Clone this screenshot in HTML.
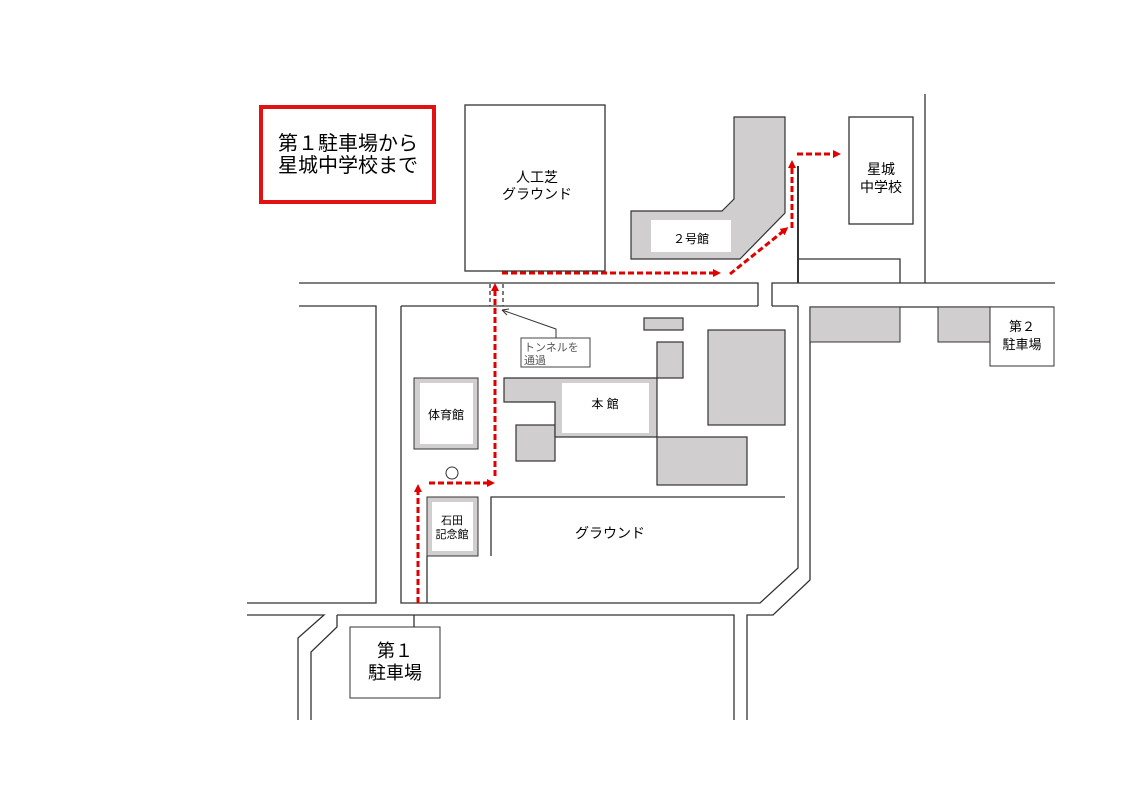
<!DOCTYPE html>
<html><head><meta charset="utf-8"><style>
html,body{margin:0;padding:0;background:#fff;}
svg{display:block;}
text{font-family:"Liberation Sans","Noto Sans CJK JP",sans-serif;fill:#000;}
</style></head><body>
<svg width="1123" height="794" viewBox="0 0 1123 794" xmlns="http://www.w3.org/2000/svg">
<defs>
<marker id="ah" markerWidth="8" markerHeight="8" refX="5" refY="4" orient="auto" markerUnits="userSpaceOnUse">
<path d="M0,0 L8,4 L0,8 z" fill="#e00000"/>
</marker>
</defs>
<!-- title -->
<rect x="261" y="107" width="173" height="95" fill="#fff" stroke="#e31212" stroke-width="4"/>
<text x="348" y="150" font-size="20" text-anchor="middle">第１駐車場から</text>
<text x="348" y="172" font-size="20" text-anchor="middle">星城中学校まで</text>

<g fill="none" stroke="#333" stroke-width="1.3">
<!-- artificial turf -->
<rect x="465" y="105" width="140" height="166"/>
<!-- roads -->
<polyline points="299,283 758,283 758,306"/>
<polyline points="772,306 772,283 1055,283"/>
<polyline points="299,306 376,306 376,603 247,603"/>
<polyline points="401,306 758,306"/>
<polyline points="772,306 798,306"/>
<polyline points="401,306 401,603 760,603 798,568 798,306"/>
<line x1="798" y1="166" x2="798" y2="283" stroke-width="2"/>
<polyline points="798,283 798,259 900,259 900,283"/>
<line x1="925" y1="94" x2="925" y2="283"/>
<polyline points="1054,307 810,307 810,580 773,615 747,615 747,720"/>
<polyline points="247,615 324,615 298,638 298,720"/>
<polyline points="337,615 734,615 734,720"/>
<polyline points="337,615 337,627 311,652 311,720"/>
<line x1="414" y1="615" x2="414" y2="627"/>
<polyline points="491,556 491,497 785,497"/>
<line x1="427" y1="556" x2="427" y2="603"/>
</g>
<!-- schools / parking boxes -->
<rect x="849" y="117" width="64" height="107" fill="#fff" stroke="#333" stroke-width="1.3"/>
<text x="881" y="174" font-size="14" text-anchor="middle">星城</text>
<text x="881" y="192" font-size="14" text-anchor="middle">中学校</text>
<rect x="810" y="307" width="90" height="35" fill="#d0cece" stroke="#333"/>
<rect x="938" y="307" width="52" height="35" fill="#d0cece" stroke="#333"/>
<rect x="990" y="307" width="64" height="59" fill="#fff" stroke="#333"/>
<text x="1022" y="331" font-size="13" text-anchor="middle">第２</text>
<text x="1022" y="349" font-size="13" text-anchor="middle">駐車場</text>
<rect x="350" y="627" width="90" height="71" fill="#fff" stroke="#333"/>
<text x="395" y="657" font-size="18" text-anchor="middle">第１</text>
<text x="395" y="679" font-size="18" text-anchor="middle">駐車場</text>
<text x="537" y="182" font-size="14" text-anchor="middle">人工芝</text>
<text x="537" y="199" font-size="14" text-anchor="middle">グラウンド</text>
<!-- building 2 -->
<polygon points="734,117 785,117 785,213 740,259 631,259 631,211 722,211 734,199" fill="#d0cece" stroke="#333" stroke-width="1.2"/>
<rect x="651" y="220" width="80" height="32" fill="#fff"/>
<text x="691" y="243" font-size="12" text-anchor="middle">２号館</text>
<!-- main buildings -->
<g fill="#d0cece" stroke="#333" stroke-width="1.2">
<rect x="644" y="318" width="39" height="12"/>
<rect x="657" y="342" width="26" height="36"/>
<rect x="708" y="330" width="77" height="95"/>
<rect x="657" y="437" width="90" height="48"/>
<rect x="516" y="425" width="39" height="36"/>
<polygon points="504,378 657,378 657,437 555,437 555,402 504,402"/>
</g>
<rect x="562" y="383" width="87" height="50" fill="#fff"/>
<text x="605" y="408" font-size="12" text-anchor="middle">本 館</text>
<rect x="414" y="378" width="64" height="71" fill="#d0cece" stroke="#333"/>
<rect x="420" y="383" width="53" height="61" fill="#fff"/>
<text x="446" y="419" font-size="12" text-anchor="middle">体育館</text>
<rect x="427" y="497" width="51" height="59" fill="#d0cece" stroke="#333"/>
<rect x="432" y="502" width="41" height="49" fill="#fff"/>
<text x="452" y="524" font-size="11" text-anchor="middle">石田</text>
<text x="452" y="538" font-size="11" text-anchor="middle">記念館</text>
<text x="610" y="538" font-size="14" text-anchor="middle">グラウンド</text>
<circle cx="452" cy="473" r="6" fill="#fff" stroke="#333"/>
<!-- tunnel -->
<g stroke="#333" stroke-width="1.3" stroke-dasharray="4,3">
<line x1="490" y1="284" x2="490" y2="306"/>
<line x1="503" y1="284" x2="503" y2="306"/>
</g>
<polyline points="556,338 556,329 502,310" fill="none" stroke="#333"/>
<path d="M502,310 l7,-1 M502,310 l5,5" stroke="#333" fill="none"/>
<rect x="521" y="338" width="69" height="29" fill="#fff" stroke="#444"/>
<text x="524" y="351" font-size="11" fill="#555" style="fill:#555">トンネルを</text>
<text x="524" y="364" font-size="11" style="fill:#555">通過</text>
<!-- red route -->
<g stroke="#e00000" stroke-width="3" stroke-dasharray="6,3" fill="none" marker-end="url(#ah)">
<line x1="418" y1="603" x2="418" y2="487"/>
<line x1="429" y1="483" x2="492" y2="483"/>
<line x1="495" y1="476" x2="495" y2="286"/>
<line x1="502" y1="273" x2="718" y2="273"/>
<line x1="730" y1="274" x2="786" y2="229"/>
<line x1="792" y1="228" x2="792" y2="163"/>
<line x1="797" y1="154" x2="838" y2="154"/>
</g>
</svg>
</body></html>
